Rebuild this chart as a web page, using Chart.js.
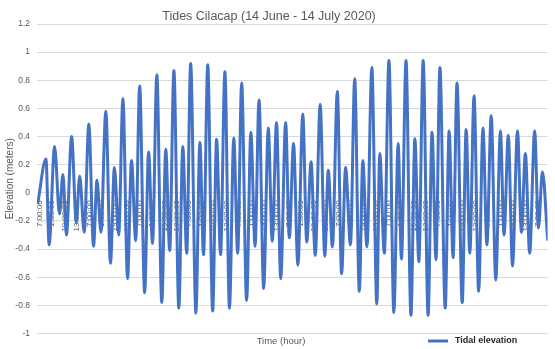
<!DOCTYPE html>
<html><head><meta charset="utf-8">
<script src="https://cdn.jsdelivr.net/npm/chart.js@4"></script>
<style>html,body{margin:0;padding:0;background:#fff}#c{display:block}</style>
</head><body>
<canvas id="c" width="555" height="349"></canvas>
<script>
const chartTitle = 'Tides Cilacap (14 June - 14 July 2020)';
const xAxisTitle = 'Time (hour)';
const yAxisTitle = 'Elevation (meters)';
const seriesName = 'Tidal elevation';

// x tick labels, one every 18 hours (hour 0 = first label)
const tickStepHours = 18;
const tickLabels = [
 '7:00:00','1:00:00','19:00:00','13:00:00','7:00:00','1:00:00','19:00:00','13:00:00',
 '7:00:00','1:00:00','19:00:00','13:00:00','7:00:00','1:00:00','19:00:00','13:00:00',
 '7:00:00','1:00:00','19:00:00','13:00:00','7:00:00','1:00:00','19:00:00','13:00:00',
 '7:00:00','1:00:00','19:00:00','13:00:00','7:00:00','1:00:00','19:00:00','13:00:00',
 '7:00:00','1:00:00','19:00:00','13:00:00','7:00:00','1:00:00','19:00:00','13:00:00',
 '7:00:00'
];
// y tick labels, bottom to top
const yTickLabels = ['-1','-0.8','-0.6','-0.4','-0.2','0','0.2','0.4','0.6','0.8','1','1.2'];

// tidal highs and lows (hours from first label, elevation in meters)
const hours = [
 -3, 9, 13.5, 21.4, 28.5, 33.5, 38.5, 46, 52.8, 57.7, 64.2, 70.9, 77.7, 82.7, 88.4,
 95.5, 102.2, 107.9, 114.1, 120.2, 126.9, 132.6, 138.7, 144.4, 151.6, 157.3, 163, 169.2,
 176.4, 182.1, 187.8, 193.9, 201, 206.7, 212.4, 218.1, 225.7, 231.4, 236.7, 242.8, 249.9,
 255.6, 261.3, 267.6, 274.2, 280.4, 286.1, 291.8, 299, 305.1, 311.2, 316.9, 323.6, 330.3,
 336, 342.2, 348.3, 355.4, 360.7, 366.8, 373.1, 380.2, 385.9, 392.1, 398.2, 405.3, 412,
 417, 423, 430.1, 436.3, 442, 449.1, 455.2, 461.9, 466.9, 472.9, 480, 487.2, 491.4, 498,
 504.7, 511.8, 518, 522.8, 529.4, 536.5, 542.2, 547.9, 554.2, 561.3, 567, 572.7, 578.4,
 586, 591.7, 597.4, 603.1, 610.6, 616.3, 621.6, 627.7, 634.4, 640.6, 646.3, 652.5, 659.1,
 665.8, 671.1, 677.2, 683.3, 690.5, 696.2, 701.9, 708.1, 715.3, 720.8, 726.5, 734.2
];
const elevation = [
 -0.08, 0.24, -0.37, 0.33, -0.15, 0.13, -0.30, 0.40, -0.21, 0.12, -0.28, 0.49, -0.38, 0.09, -0.28,
 0.58, -0.50, 0.18, -0.30, 0.67, -0.61, 0.23, -0.34, 0.76, -0.71, 0.29, -0.36, 0.84,
 -0.78, 0.31, -0.41, 0.87, -0.82, 0.33, -0.43, 0.92, -0.855, 0.36, -0.44, 0.91, -0.84,
 0.38, -0.44, 0.86, -0.82, 0.39, -0.43, 0.78, -0.765, 0.43, -0.38, 0.66, -0.68, 0.46,
 -0.345, 0.50, -0.61, 0.50, -0.32, 0.35, -0.515, 0.56, -0.35, 0.22, -0.445, 0.63, -0.45,
 0.16, -0.385, 0.72, -0.575, 0.18, -0.37, 0.81, -0.70, 0.23, -0.385, 0.89, -0.79, 0.28, -0.43,
 0.94, -0.85, 0.35, -0.47, 0.94, -0.87, 0.385, -0.49, 0.94, -0.87, 0.43, -0.475, 0.89,
 -0.82, 0.44, -0.46, 0.78, -0.78, 0.45, -0.43, 0.69, -0.70, 0.46, -0.37, 0.55, -0.62,
 0.44, -0.30, 0.41, -0.52, 0.44, -0.28, 0.28, -0.43, 0.44, -0.25, 0.15, -0.34
];

const FONT = '"Liberation Sans", Arial, sans-serif';
Chart.defaults.font.family = FONT;
Chart.defaults.color = '#595959';

const textPlugin = {
  id: 'texts',
  afterDraw(chart) {
    const c = chart.ctx;
    c.save();
    c.textBaseline = 'middle';
    c.textAlign = 'center';
    c.fillStyle = '#595959';
    c.font = '12.5px ' + FONT;
    c.fillText(chartTitle, 269, 17);
    c.font = '9.5px ' + FONT;
    c.fillText(xAxisTitle, 281, 341);
    c.strokeStyle = '#4472C4';
    c.lineWidth = 3;
    c.beginPath(); c.moveTo(428, 341); c.lineTo(448, 341); c.stroke();
    c.textAlign = 'left';
    c.fillStyle = '#262626';
    c.font = 'bold 9px ' + FONT;
    c.fillText(seriesName, 455, 341);
    c.restore();
  }
};

new Chart(document.getElementById('c'), {
  type: 'line',
  data: {
    datasets: [{
      label: seriesName,
      data: hours.map((h, i) => ({ x: h, y: elevation[i] })),
      borderColor: '#4472C4',
      backgroundColor: '#4472C4',
      borderWidth: 3,
      pointRadius: 0,
      cubicInterpolationMode: 'monotone',
      fill: false
    }]
  },
  options: {
    responsive: false,
    animation: false,
    devicePixelRatio: 1,
    layout: { padding: { top: 24, bottom: 15.5, left: 0, right: 0 } },
    plugins: { legend: { display: false }, title: { display: false }, tooltip: { enabled: false } },
    scales: {
      x: {
        type: 'linear',
        position: { y: 0 },
        z: 1,
        min: -4, max: 734,
        grid: { display: false, drawTicks: false },
        border: { display: false },
        afterBuildTicks: s => { s.ticks = tickLabels.map((_, i) => ({ value: i * tickStepHours })); },
        ticks: {
          autoSkip: false, minRotation: 90, maxRotation: 90, padding: 7.5,
          font: { size: 8 }, color: '#595959',
          callback: (v, i) => tickLabels[i]
        }
      },
      y: {
        min: -1, max: 1.2,
        afterBuildTicks: s => { s.ticks = yTickLabels.map(t => ({ value: Number(t) })); },
        ticks: { font: { size: 8.5 }, color: '#595959', padding: 7, callback: (v, i) => yTickLabels[i] },
        grid: { color: '#d9d9d9', drawTicks: false },
        border: { display: false },
        title: { display: true, text: yAxisTitle, font: { size: 10 }, color: '#595959', padding: { top: 4, bottom: 0 } },
        afterFit: s => { s.width = 37; }
      }
    }
  },
  plugins: [textPlugin]
});
</script>
</body></html>
